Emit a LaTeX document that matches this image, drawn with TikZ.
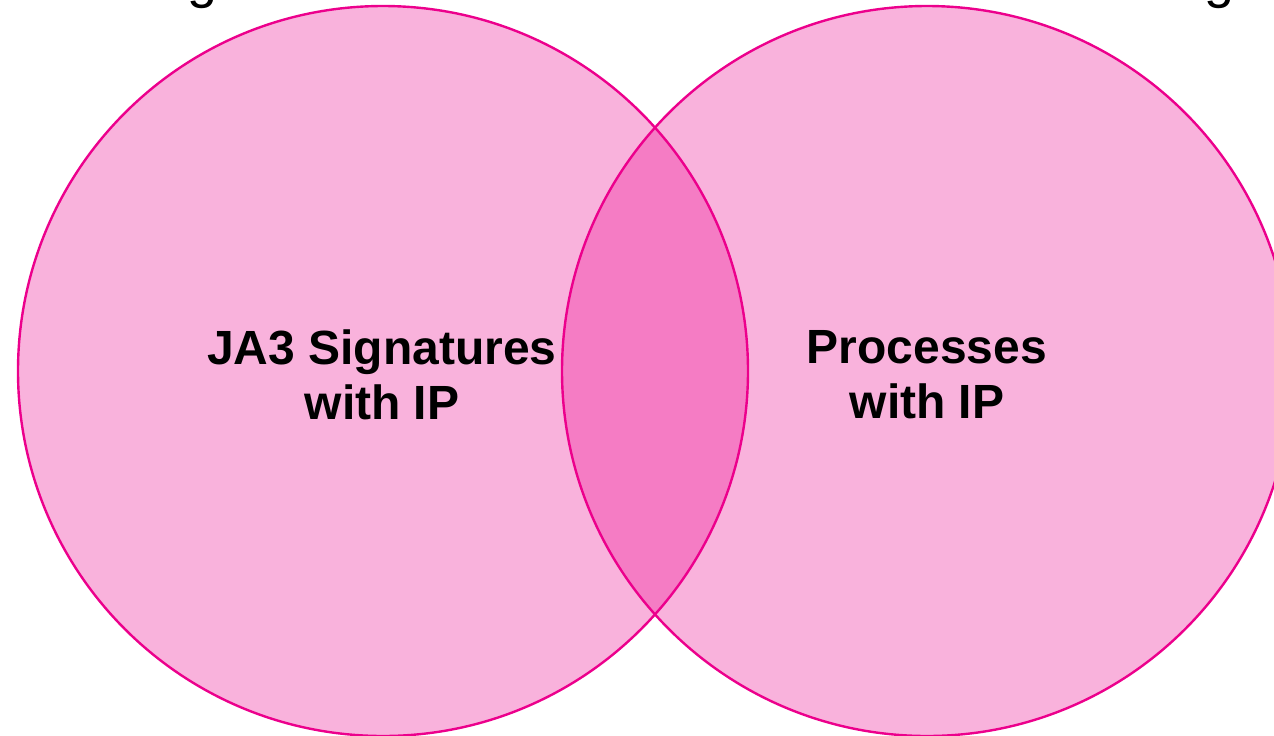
\documentclass[tikz,border=0pt]{standalone}
\usepackage{fontspec}
\setmainfont{Liberation Sans}
\usepackage{tikz}
\usetikzlibrary{positioning}

\definecolor{vennpink}{RGB}{236,0,140}

\begin{document}
\begin{tikzpicture}[x=0.5pt,y=-0.5pt]
\tikzset{
  setlabel/.style={font=\fontsize{24}{27.5}\selectfont\bfseries, align=center, text=black},
}
\useasboundingbox (0,0) rectangle (1274,735);
\begin{scope}
\clip (0,0) rectangle (1274,735);
% Title line above, only its descenders show
\node[font=\fontsize{27}{30}\selectfont, anchor=base] (titleL) at (203,-3) {g};
\node[font=\fontsize{27}{30}\selectfont, anchor=base] (titleR) at (1219,-3) {g};
% Set fills
\foreach \cx in {383,927} {
  \fill[vennpink, fill opacity=0.3] (\cx,371) circle (365);
}
% Set outlines
\foreach \cx in {383,927} {
  \draw[vennpink, line width=1.2pt] (\cx,371) circle (365);
}
\end{scope}
% Labels
\node[setlabel] (ja3) at (382,375) {JA3 Signatures\\with IP};
\node[setlabel] (proc) at (927,375) {Processes\\with IP};
\end{tikzpicture}
\end{document}
